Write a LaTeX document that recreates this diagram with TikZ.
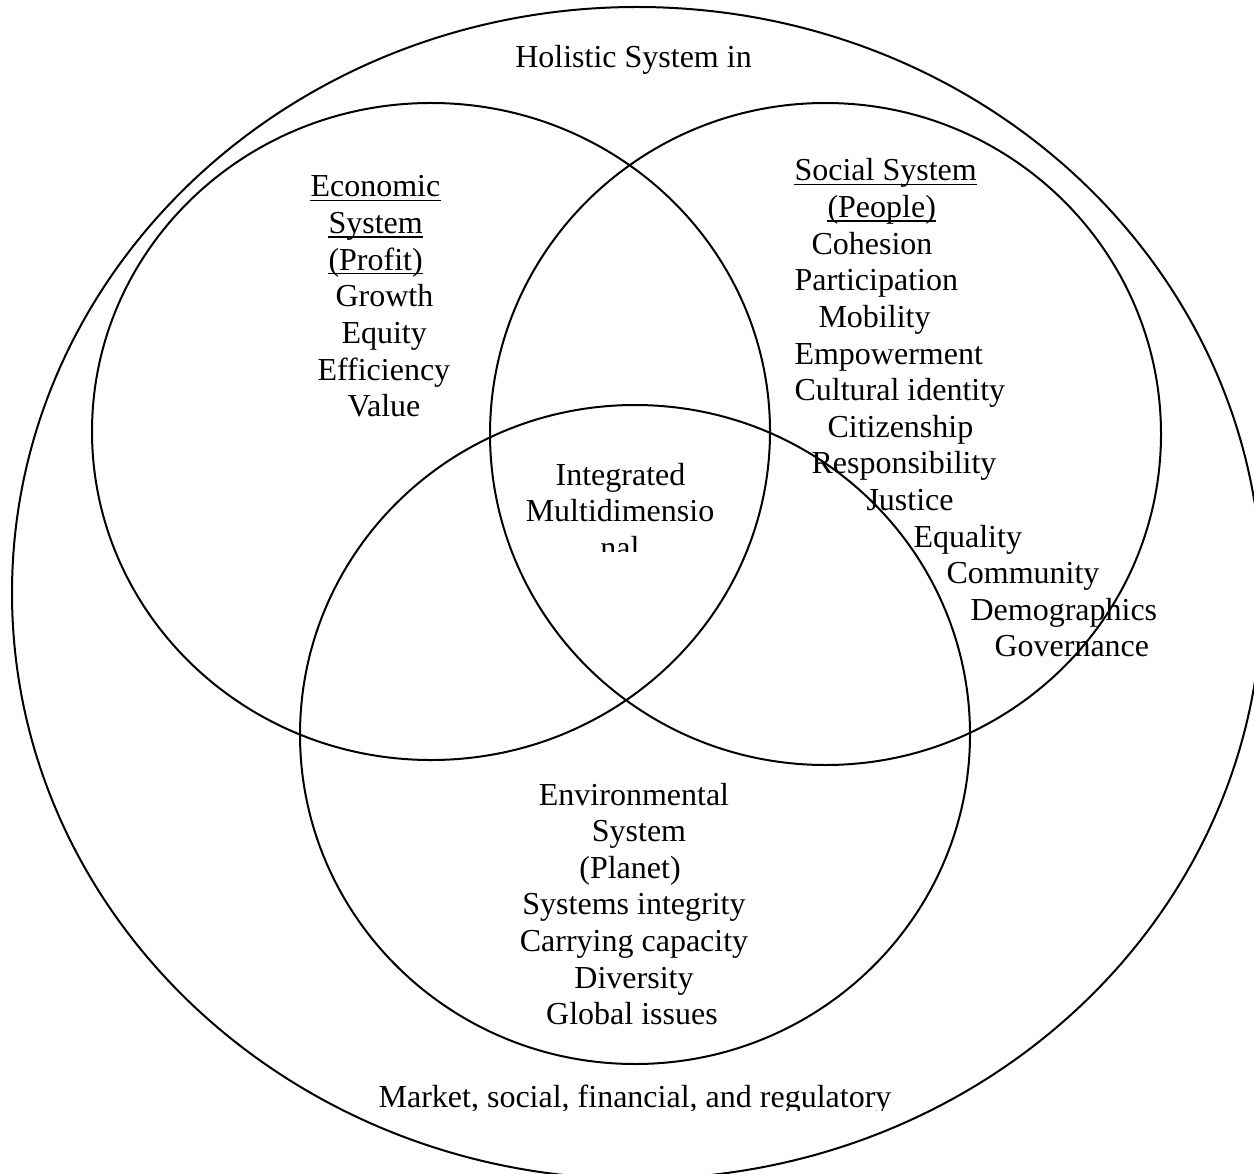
\documentclass[tikz,border=0pt]{standalone}
\usepackage{fontspec}
\setmainfont{Liberation Serif}
\begin{document}
\begin{tikzpicture}[x=0.375pt,y=-0.375pt,
  ring/.style={line width=0.75pt},
  lbl/.style={inner sep=0pt, font=\fontsize{12}{13.8}\selectfont, anchor=base west},
  clbl/.style={inner sep=0pt, font=\fontsize{12}{13.8}\selectfont, anchor=base},
  uline/.style={line width=0.45pt}]
\useasboundingbox (0,0) rectangle (1254,1173);
% outer system
\begin{scope}
\clip (0,0) rectangle (1254,1173);
\draw[ring] (637,593) ellipse [x radius=234.375pt, y radius=219.75pt];
\end{scope}
% three systems
\draw[ring] (431,431.5) ellipse [x radius=127.125pt, y radius=123.19pt];
\draw[ring] (825.5,434) ellipse [x radius=125.81pt, y radius=124.125pt];
\draw[ring] (635,734.5) ellipse [x radius=125.625pt, y radius=123.56pt];

% outer labels
\node[clbl] (hol) at (633.5,68) {Holistic System in};
\begin{scope}
\clip (0,0) rectangle (1254,1110);
\node[clbl] (mkt) at (635,1107) {Market, social, financial, and regulatory};
\end{scope}

% economic
\node[lbl] (e1) at (310,197) {Economic};
\node[lbl] (e2) at (328,233.6) {System};
\node[lbl] (e3) at (328,270.2) {(Profit)};
\node[lbl] (e4) at (335,306.8) {Growth};
\node[lbl] (e5) at (341,343.4) {Equity};
\node[lbl] (e6) at (317,380) {Efficiency};
\node[lbl] (e7) at (347,416.6) {Value};
\foreach \n in {e1,e2,e3}
  \draw[uline] ([yshift=-1.3pt]\n.base west) -- ([yshift=-1.3pt]\n.base east);

% social
\node[lbl] (s1) at (794,181) {Social System};
\node[lbl] (s2) at (827,217.6) {(People)};
\node[lbl] (s3) at (811,254.2) {Cohesion};
\node[lbl] (s4) at (794,290.8) {Participation};
\node[lbl] (s5) at (818,327.4) {Mobility};
\node[lbl] (s6) at (794,364) {Empowerment};
\node[lbl] (s7) at (794,400.6) {Cultural identity};
\node[lbl] (s8) at (827,437.2) {Citizenship};
\node[lbl] (s9) at (811,473.8) {Responsibility};
\node[lbl] (s10) at (866,510.4) {Justice};
\node[lbl] (s11) at (913,547) {Equality};
\node[lbl] (s12) at (946,583.6) {Community};
\node[lbl] (s13) at (970,620.2) {Demographics};
\node[lbl] (s14) at (994,656.8) {Governance};
\foreach \n in {s1,s2}
  \draw[uline] ([yshift=-1.3pt]\n.base west) -- ([yshift=-1.3pt]\n.base east);

% environmental
\node[clbl] (v1) at (634,805) {Environmental};
\node[clbl] (v2) at (639,841.6) {System};
\node[clbl] (v3) at (630,878.2) {(Planet)};
\node[clbl] (v4) at (634,914.8) {Systems integrity};
\node[clbl] (v5) at (634,951.4) {Carrying capacity};
\node[clbl] (v6) at (634,988) {Diversity};
\node[clbl] (v7) at (632,1024.6) {Global issues};

% integrated centre
\begin{scope}
\clip (0,440) rectangle (1254,551);
\node[clbl] (i1) at (620.5,485) {Integrated};
\node[clbl] (i2) at (620,521.6) {Multidimensio};
\node[clbl] (i3) at (620,558.2) {nal};
\end{scope}
\end{tikzpicture}
\end{document}
